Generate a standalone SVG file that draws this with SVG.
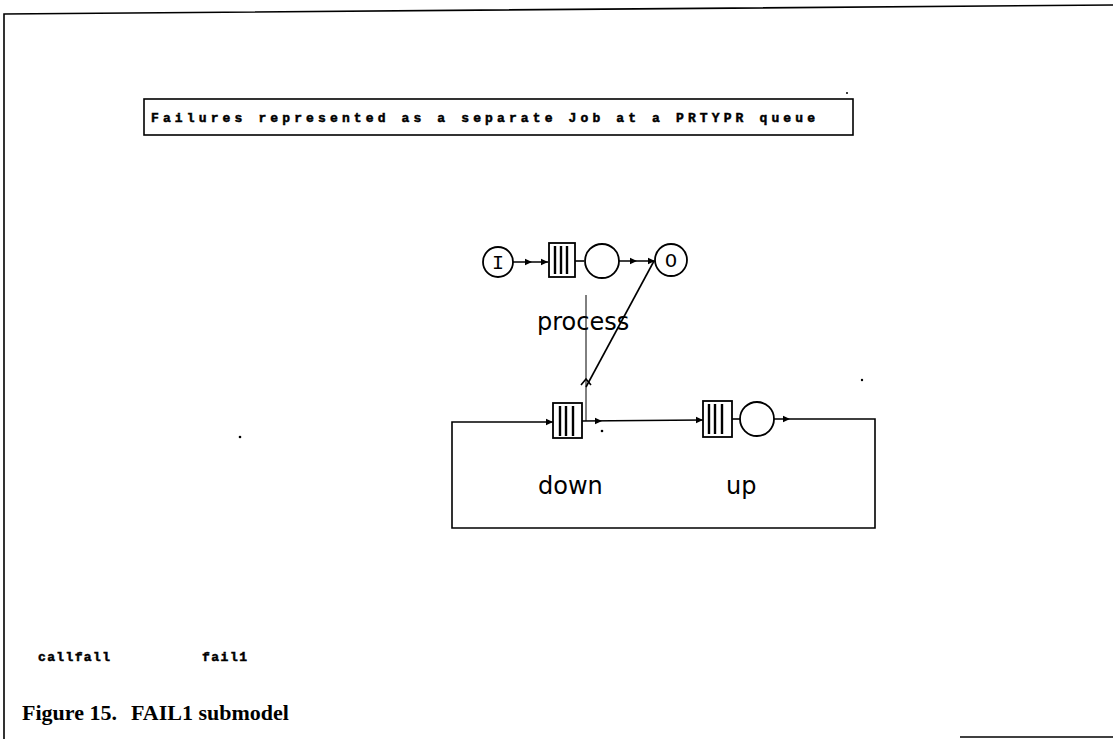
<svg xmlns="http://www.w3.org/2000/svg" xmlns:xlink="http://www.w3.org/1999/xlink" width="1113" height="739" viewBox="0 0 1113 739">
<style>
.ln{fill:none;stroke:#000;stroke-width:1.6}
.thin{fill:none;stroke:#000;stroke-width:1}
.nd{fill:#fff;stroke:#000;stroke-width:1.8}
.bar{stroke:#000;stroke-width:2.4}
.lbl{font-family:"DejaVu Sans",sans-serif;font-size:24px;fill:#000}
.sym{font-family:"Liberation Mono",monospace;font-size:20px;fill:#000}
.dot{font-family:"Liberation Mono",monospace;font-weight:bold;font-size:13px;fill:#000;stroke:#000;stroke-width:0.5}
.cap{font-family:"Liberation Serif",serif;font-weight:bold;font-size:22px;fill:#000}
</style>
<defs>
<path id="ah" d="M-7,-3.2 L0,0 L-7,3.2 z" fill="#000"/>
</defs>
<rect width="1113" height="739" fill="#fff"/>
<g id="frame">
<path class="ln" d="M4,739 L4,14 L1113,5" stroke-width="2.2"/>
<path class="ln" d="M960,737 L1113,737" stroke-width="1.4"/>
</g>
<g id="header">
<rect x="144" y="99" width="709" height="36" fill="none" stroke="#000" stroke-width="1.6"/>
<text class="dot" x="151" y="122" textLength="664" lengthAdjust="spacing">Failures represented as a separate Job at a PRTYPR queue</text>
</g>
<g id="connectors">
<path class="ln" d="M513,262 L548,262"/>
<path class="ln" d="M575,261 L584,261"/>
<path class="ln" d="M619,261 L655,261"/>
<path class="ln" d="M586,387 L654,261"/>
<path class="ln" d="M581,385 L586,379 L591,385" stroke-width="1.2"/>
<path class="thin" d="M586,295 L586,421"/>
<path class="ln" d="M582,421 L703,420"/>
<path class="ln" d="M732,419 L740,419"/>
<path class="ln" d="M774,419 L875,419 L875,528 L452,528 L452,422 L553,422"/>
<use xlink:href="#ah" x="532" y="262"/>
<use xlink:href="#ah" x="548" y="262"/>
<use xlink:href="#ah" x="637" y="261"/>
<use xlink:href="#ah" x="655" y="261"/>
<use xlink:href="#ah" x="602" y="421"/>
<use xlink:href="#ah" x="703" y="420"/>
<use xlink:href="#ah" x="790" y="419"/>
<use xlink:href="#ah" x="553" y="422"/>
</g>
<g id="node-I">
<circle class="nd" cx="498" cy="262" r="15"/>
<text class="sym" x="498" y="269" text-anchor="middle">I</text>
</g>
<g id="node-process-queue">
<rect class="nd" x="549" y="243" width="26" height="34"/>
<path class="bar" d="M555,246 V274 M561,246 V274 M567,246 V274"/>
</g>
<g id="node-process-server">
<circle class="nd" cx="602" cy="261" r="17"/>
</g>
<g id="node-O">
<circle class="nd" cx="671" cy="260" r="16"/>
<text class="sym" x="671" y="267" text-anchor="middle">O</text>
</g>
<g id="node-down-queue">
<rect class="nd" x="553" y="403" width="29" height="35"/>
<path class="bar" d="M560,406 V436 M566,406 V436 M573,406 V436"/>
</g>
<g id="node-up-queue">
<rect class="nd" x="703" y="401" width="29" height="36"/>
<path class="bar" d="M709,404 V434 M715,404 V434 M722,404 V434"/>
</g>
<g id="node-up-server">
<circle class="nd" cx="757" cy="419" r="17"/>
</g>
<g id="labels">
<text class="lbl" x="537" y="330">process</text>
<text class="lbl" x="538" y="494">down</text>
<text class="lbl" x="726" y="494">up</text>
<text class="dot" x="38" y="661" textLength="72" lengthAdjust="spacing">callfall</text>
<text class="dot" x="202" y="661" textLength="45" lengthAdjust="spacing">fail1</text>
<text class="cap" x="22" y="720">Figure 15.<tspan x="131">FAIL1 submodel</tspan></text>
</g>
<g id="specks" fill="#000">
<circle cx="602" cy="431" r="1.3"/>
<circle cx="862" cy="380" r="1.2"/>
<circle cx="240" cy="437" r="1.3"/>
<circle cx="847" cy="93" r="1"/>
</g>
</svg>
